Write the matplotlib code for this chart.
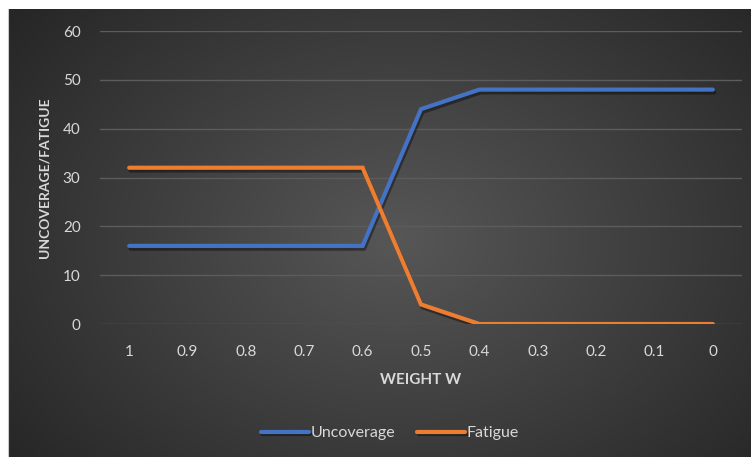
import matplotlib
matplotlib.use('Agg')
import matplotlib.pyplot as plt
import matplotlib.patheffects as pe
import numpy as np

weights = ['1', '0.9', '0.8', '0.7', '0.6', '0.5', '0.4', '0.3', '0.2', '0.1', '0']
uncoverage = [16, 16, 16, 16, 16, 44, 48, 48, 48, 48, 48]
fatigue = [32, 32, 32, 32, 32, 4, 0, 0, 0, 0, 0]
y_ticks = [0, 10, 20, 30, 40, 50, 60]

plt.rcParams['font.family'] = ['Lato', 'DejaVu Sans']
W, H = 751, 457
fig = plt.figure(figsize=(W / 100, H / 100), dpi=100, facecolor='white')

# dark gradient backdrop
bg = fig.add_axes([8 / W, 0, 1 - 8 / W, (H - 9) / H])
bg.set_axis_off()
yy, xx = np.mgrid[0:448, 0:743]
d = np.sqrt(((xx - 390) / 520) ** 2 + ((yy - 230) / 380) ** 2)
shade = np.clip(0.34 - 0.2 * d, 0.14, 0.34)
bg.imshow(np.dstack([shade] * 3), aspect='auto', extent=[0, 1, 0, 1], interpolation='bilinear')
bg.set_xlim(0, 1)
bg.set_ylim(0, 1)

# left border residue
fig.add_artist(plt.Line2D([7.5 / W, 7.5 / W], [0, (H - 9) / H], color='#c8c8c8', lw=0.8))

ax = fig.add_axes([100 / W, (H - 324) / H, 642 / W, 293 / H])
ax.patch.set_alpha(0)
x = np.arange(len(weights))
shadow = [pe.SimpleLineShadow(offset=(1, -2), shadow_color='black', alpha=0.4), pe.Normal()]
ax.plot(x, uncoverage, color='#4472c4', lw=3, solid_capstyle='round', solid_joinstyle='miter',
        label='Uncoverage', path_effects=shadow, zorder=3)
ax.plot(x, fatigue, color='#ed7d31', lw=3, solid_capstyle='round', solid_joinstyle='miter',
        label='Fatigue', path_effects=shadow, zorder=3)

ax.set_xlim(-0.5, len(weights) - 0.5)
ax.set_ylim(0, 60)
ax.set_yticks(y_ticks)
ax.set_xticks(x)
ax.set_xticklabels(weights)
for s in ax.spines.values():
    s.set_visible(False)
ax.grid(axis='y', color='#5c5c5c', lw=1)
ax.set_axisbelow(True)
ax.tick_params(length=0, colors='#d9d9d9', labelsize=11)
ax.tick_params(axis='x', pad=15)
ax.tick_params(axis='y', pad=14)

ax.set_xlabel('WEIGHT W', color='#d9d9d9', fontsize=11, fontweight='bold', labelpad=10)
ax.set_ylabel('UNCOVERAGE/FATIGUE', color='#d9d9d9', fontsize=10, fontweight='bold', labelpad=9)

leg = fig.legend(loc='center', bbox_to_anchor=(390 / W, (H - 433) / H), ncol=2, frameon=False,
                 fontsize=11.5, handlelength=3.0, handletextpad=0.1, columnspacing=1.4)
for t in leg.get_texts():
    t.set_color('#d9d9d9')

fig.savefig('out.png', dpi=100, facecolor='white')
